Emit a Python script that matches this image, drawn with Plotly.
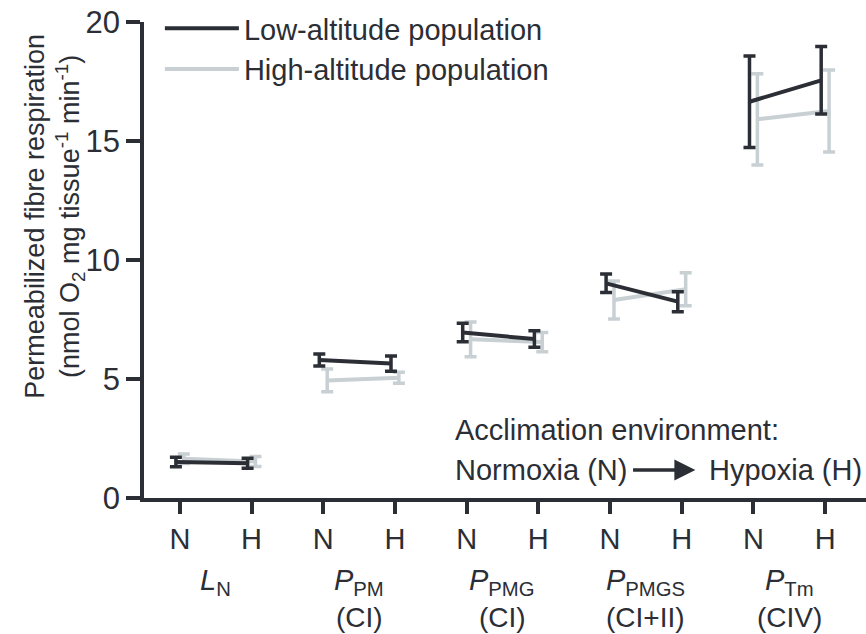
import plotly.graph_objects as go

# ---- data ----
group_labels = ["<i>L</i><sub>N</sub>", "<i>P</i><sub>PM</sub>", "<i>P</i><sub>PMG</sub>",
                "<i>P</i><sub>PMGS</sub>", "<i>P</i><sub>Tm</sub>"]
complex_labels = ["", "(CI)", "(CI)", "(CI+II)", "(CIV)"]
conditions = ["N", "H"]

low_N = [1.51, 5.80, 6.95, 9.02, 16.65]
low_H = [1.46, 5.65, 6.68, 8.25, 17.55]
low_N_err = [0.20, 0.25, 0.39, 0.39, 1.92]
low_H_err = [0.21, 0.32, 0.35, 0.42, 1.42]

high_N = [1.65, 4.94, 6.67, 8.32, 15.91]
high_H = [1.53, 5.05, 6.55, 8.77, 16.26]
high_N_err = [0.20, 0.48, 0.73, 0.80, 1.92]
high_H_err = [0.21, 0.23, 0.40, 0.69, 1.72]

y_ticks = [0, 5, 10, 15, 20]

DARK = "#2b2e35"
LIGHT = "#c8d0d4"
FONT = "Liberation Sans, Arial, sans-serif"


def build(nv, hv, ne, he, off):
    xs, ys, es = [], [], []
    for i in range(len(nv)):
        xs += [2 * i + off, 2 * i + 1 + off, None]
        ys += [nv[i], hv[i], None]
        es += [ne[i], he[i], 0]
    return xs, ys, es


fig = go.Figure()
for name, nv, hv, ne, he, off, col in [
    ("High-altitude population", high_N, high_H, high_N_err, high_H_err, 0.055, LIGHT),
    ("Low-altitude population", low_N, low_H, low_N_err, low_H_err, -0.055, DARK),
]:
    xs, ys, es = build(nv, hv, ne, he, off)
    fig.add_trace(go.Scatter(
        x=xs, y=ys, mode="lines", name=name,
        line=dict(color=col, width=4),
        error_y=dict(type="data", array=es, visible=True, color=col,
                     thickness=3.5, width=6),
        connectgaps=False,
    ))

tickvals = list(range(2 * len(group_labels)))
ticktext = [conditions[i % 2] for i in tickvals]

fig.update_layout(
    width=866, height=634,
    margin=dict(l=144, r=0, t=22, b=136, autoexpand=False),
    paper_bgcolor="white", plot_bgcolor="white",
    font=dict(family=FONT, size=28, color=DARK),
    showlegend=True,
    legend=dict(x=0.022, y=1.04, xanchor="left", yanchor="top",
                traceorder="reversed", font=dict(size=29, color=DARK),
                bgcolor="rgba(0,0,0,0)", itemwidth=74, tracegroupgap=0),
    xaxis=dict(range=[-0.5, 9.57], tickvals=tickvals, ticktext=ticktext,
               showline=True, linecolor=DARK, linewidth=3.5,
               ticks="outside", ticklen=12, tickwidth=3.5, tickcolor=DARK,
               showgrid=False, zeroline=False, automargin=False,
               tickfont=dict(size=29, color=DARK)),
    yaxis=dict(range=[0, 20], tickvals=y_ticks,
               showline=True, linecolor=DARK, linewidth=3.5,
               ticks="outside", ticklen=14, tickwidth=3.5, tickcolor=DARK,
               showgrid=False, zeroline=False, automargin=False,
               tickfont=dict(size=31, color=DARK)),
)

# group labels under the axis
for i, (g, c) in enumerate(zip(group_labels, complex_labels)):
    fig.add_annotation(x=2 * i + 0.5, y=-0.176, xref="x", yref="paper",
                       text=g, showarrow=False, font=dict(size=29, color=DARK),
                       xanchor="center", yanchor="middle")
    if c:
        fig.add_annotation(x=2 * i + 0.5, y=-0.250, xref="x", yref="paper",
                           text=c, showarrow=False, font=dict(size=28, color=DARK),
                           xanchor="center", yanchor="middle")

# y axis title
fig.add_annotation(x=-0.124, y=0.592, xref="paper", yref="paper", textangle=-90,
                   text="Permeabilized fibre respiration<br>(nmol O<sub>2</sub> mg tissue<sup>-1</sup> min<sup>-1</sup>)",
                   showarrow=False, font=dict(size=27, color=DARK),
                   xanchor="center", yanchor="middle")

# acclimation note
fig.add_annotation(x=3.81, y=2.86, xref="x", yref="y", text="Acclimation environment:",
                   showarrow=False, xanchor="left", yanchor="middle",
                   font=dict(size=29, color=DARK))
fig.add_annotation(x=3.81, y=1.18, xref="x", yref="y", text="Normoxia (N)",
                   showarrow=False, xanchor="left", yanchor="middle",
                   font=dict(size=29, color=DARK))
fig.add_annotation(x=7.35, y=1.18, xref="x", yref="y", text="Hypoxia (H)",
                   showarrow=False, xanchor="left", yanchor="middle",
                   font=dict(size=29, color=DARK))
fig.add_annotation(x=7.19, y=1.18, ax=6.30, ay=1.18, xref="x", yref="y",
                   axref="x", ayref="y", text="", showarrow=True,
                   arrowhead=2, arrowsize=1.2, arrowwidth=3.5, arrowcolor=DARK)

fig.write_html("out.html", config={"displayModeBar": False},
               post_script="document.body.style.margin='0';")
